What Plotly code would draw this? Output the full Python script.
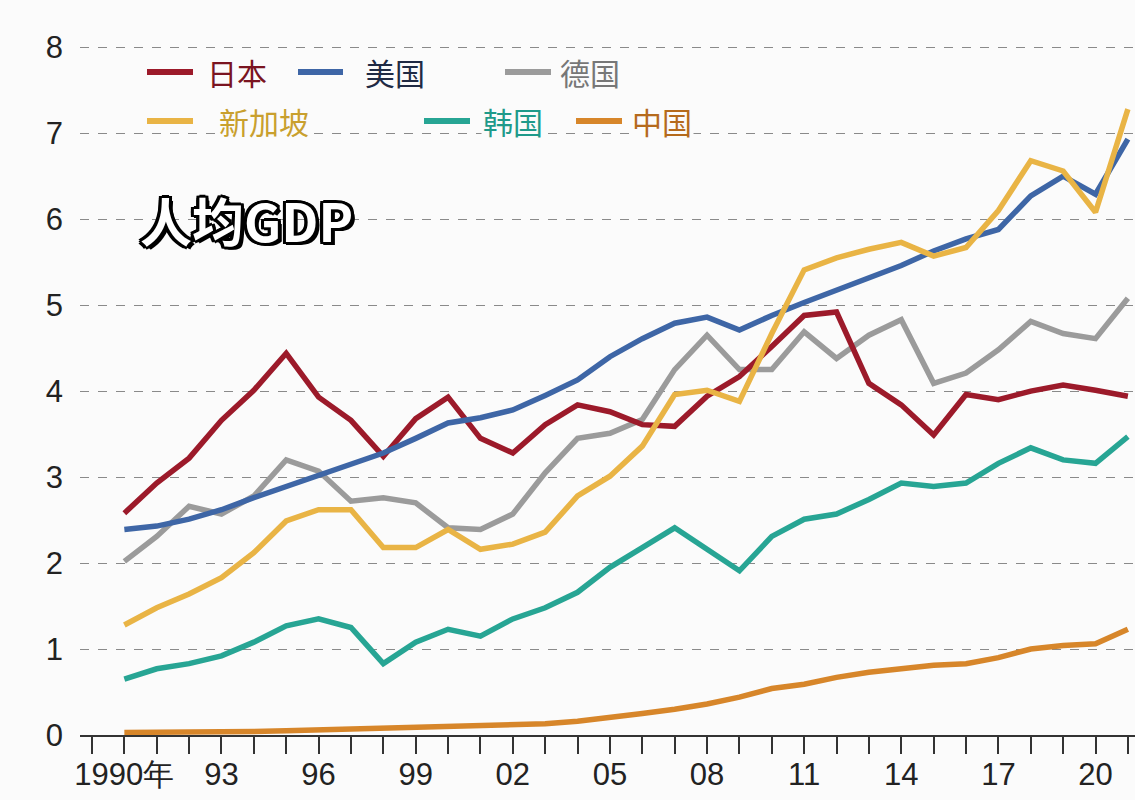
import plotly.graph_objects as go

years = list(range(1990, 2022))

japan = [2.58, 2.93, 3.22, 3.66, 4.01, 4.44, 3.93, 3.66, 3.24, 3.68, 3.93, 3.45, 3.28,
         3.61, 3.84, 3.76, 3.61, 3.59, 3.94, 4.17, 4.52, 4.88, 4.92, 4.09, 3.84, 3.49,
         3.96, 3.90, 4.00, 4.07, 4.01, 3.94]
usa = [2.39, 2.43, 2.51, 2.62, 2.76, 2.89, 3.01, 3.14, 3.28, 3.45, 3.63, 3.69, 3.78,
       3.95, 4.13, 4.40, 4.61, 4.79, 4.86, 4.71, 4.88, 5.03, 5.17, 5.32, 5.46, 5.63,
       5.77, 5.88, 6.27, 6.50, 6.29, 6.93]
germany = [2.02, 2.31, 2.66, 2.57, 2.78, 3.20, 3.07, 2.72, 2.76, 2.70, 2.41, 2.39, 2.57,
           3.05, 3.45, 3.51, 3.67, 4.25, 4.65, 4.25, 4.25, 4.69, 4.38, 4.65, 4.83, 4.09,
           4.21, 4.48, 4.81, 4.67, 4.61, 5.08]
singapore = [1.28, 1.48, 1.64, 1.83, 2.12, 2.49, 2.62, 2.62, 2.18, 2.18, 2.39, 2.16, 2.22,
             2.36, 2.78, 3.01, 3.36, 3.96, 4.01, 3.88, 4.67, 5.41, 5.55, 5.65, 5.73, 5.57,
             5.67, 6.10, 6.68, 6.56, 6.08, 7.28]
korea = [0.65, 0.77, 0.83, 0.92, 1.08, 1.27, 1.35, 1.25, 0.83, 1.08, 1.23, 1.15, 1.35,
         1.48, 1.66, 1.95, 2.18, 2.41, 2.16, 1.91, 2.31, 2.51, 2.57, 2.74, 2.93, 2.89,
         2.93, 3.16, 3.34, 3.20, 3.16, 3.47]
china = [0.03, 0.03, 0.04, 0.04, 0.04, 0.05, 0.06, 0.07, 0.07, 0.08, 0.09, 0.10, 0.11,
         0.13, 0.16, 0.20, 0.25, 0.30, 0.36, 0.44, 0.54, 0.59, 0.67, 0.73, 0.77, 0.81,
         0.83, 0.90, 1.00, 1.04, 1.06, 1.23]

names = ["日本", "美国", "德国", "新加坡", "韩国", "中国"]
colors = {"日本": "#9c1a2a", "美国": "#3e66a6", "德国": "#9b9b9b",
          "新加坡": "#e9b445", "韩国": "#27a594", "中国": "#d7862a"}
text_colors = {"日本": "#7a1420", "美国": "#1f2a44", "德国": "#777777",
               "新加坡": "#c9a02e", "韩国": "#1f9a8a", "中国": "#b56a1c"}
series = {"日本": japan, "美国": usa, "德国": germany,
          "新加坡": singapore, "韩国": korea, "中国": china}
draw_order = ["中国", "韩国", "德国", "日本", "美国", "新加坡"]

xtick_vals = list(range(1990, 2021, 3))
xtick_text = ["1990年", "93", "96", "99", "02", "05", "08", "11", "14", "17", "20"]
ytick_vals = list(range(0, 9))

W, H = 1135, 800
ML, MR, MT, MB = 80, 0, 30, 65

fig = go.Figure()
for n in draw_order:
    fig.add_trace(go.Scatter(x=years, y=series[n], mode="lines", name=n,
                             line=dict(color=colors[n], width=5.5),
                             showlegend=False, hoverinfo="skip"))

tick_font = dict(family="Liberation Sans Narrow, Arial Narrow, sans-serif", size=31, color="#222")

fig.update_layout(
    width=W, height=H,
    margin=dict(l=ML, r=MR, t=MT, b=MB),
    paper_bgcolor="#fbfbfb", plot_bgcolor="#fbfbfb",
    xaxis=dict(range=[1988.63, 2021.22], tickvals=xtick_vals, ticktext=xtick_text,
               ticks="outside", ticklen=17, tickwidth=1.5, tickcolor="#333",
               minor=dict(dtick=1, tick0=1990, ticks="outside", ticklen=17,
                          tickwidth=1.5, tickcolor="#333", showgrid=False),
               showgrid=False, zeroline=False, showline=True, linecolor="#333",
               linewidth=2, tickfont=tick_font, ticklabelstandoff=-6),
    yaxis=dict(range=[0, 8.2], tickvals=ytick_vals, ticks="", showline=False,
               zeroline=False, showgrid=True, gridcolor="#8a8a8a", gridwidth=1.3,
               griddash="dash", tickfont=tick_font, ticklabelstandoff=16),
)

pw = W - ML - MR
ph = H - MT - MB


def px(x):
    return (x - ML) / pw


def py(y):
    return (H - MB - y) / ph


# Legend (manual, two rows)
legend_items = [
    ("日本", 147, 193, 205, 72),
    ("美国", 298, 343, 363, 72),
    ("德国", 505, 551, 558, 72),
    ("新加坡", 147, 193, 217, 121),
    ("韩国", 424, 470, 481, 121),
    ("中国", 576, 622, 630, 121),
]
for n, x0, x1, tx, ty in legend_items:
    fig.add_shape(type="line", xref="paper", yref="paper",
                  x0=px(x0), x1=px(x1), y0=py(ty), y1=py(ty),
                  line=dict(color=colors[n], width=6), layer="above")
    fig.add_annotation(xref="paper", yref="paper", x=px(tx), y=py(ty),
                       xanchor="left", yanchor="middle", showarrow=False,
                       text=n, bgcolor="#fbfbfb",
                       font=dict(family="Noto Sans CJK SC", size=30, color=text_colors[n]))

# Title
shadow = ", ".join(f"{dx}px {dy}px 0 #000" for dx, dy in
                   [(3, 0), (-3, 0), (0, 3), (0, -3), (2, 2), (-2, -2), (2, -2), (-2, 2),
                    (3, 2), (-3, 2), (3, -2), (-3, -2), (4, 3)])
fig.add_annotation(xref="paper", yref="paper", x=px(246), y=py(220),
                   xanchor="center", yanchor="middle", showarrow=False,
                   text="<b>人均GDP</b>",
                   font=dict(family="Noto Sans CJK SC", size=52, color="#ffffff",
                             shadow=shadow))

fig.write_html("out.html", config={"displayModeBar": False},
               post_script="document.body.style.margin='0';")
